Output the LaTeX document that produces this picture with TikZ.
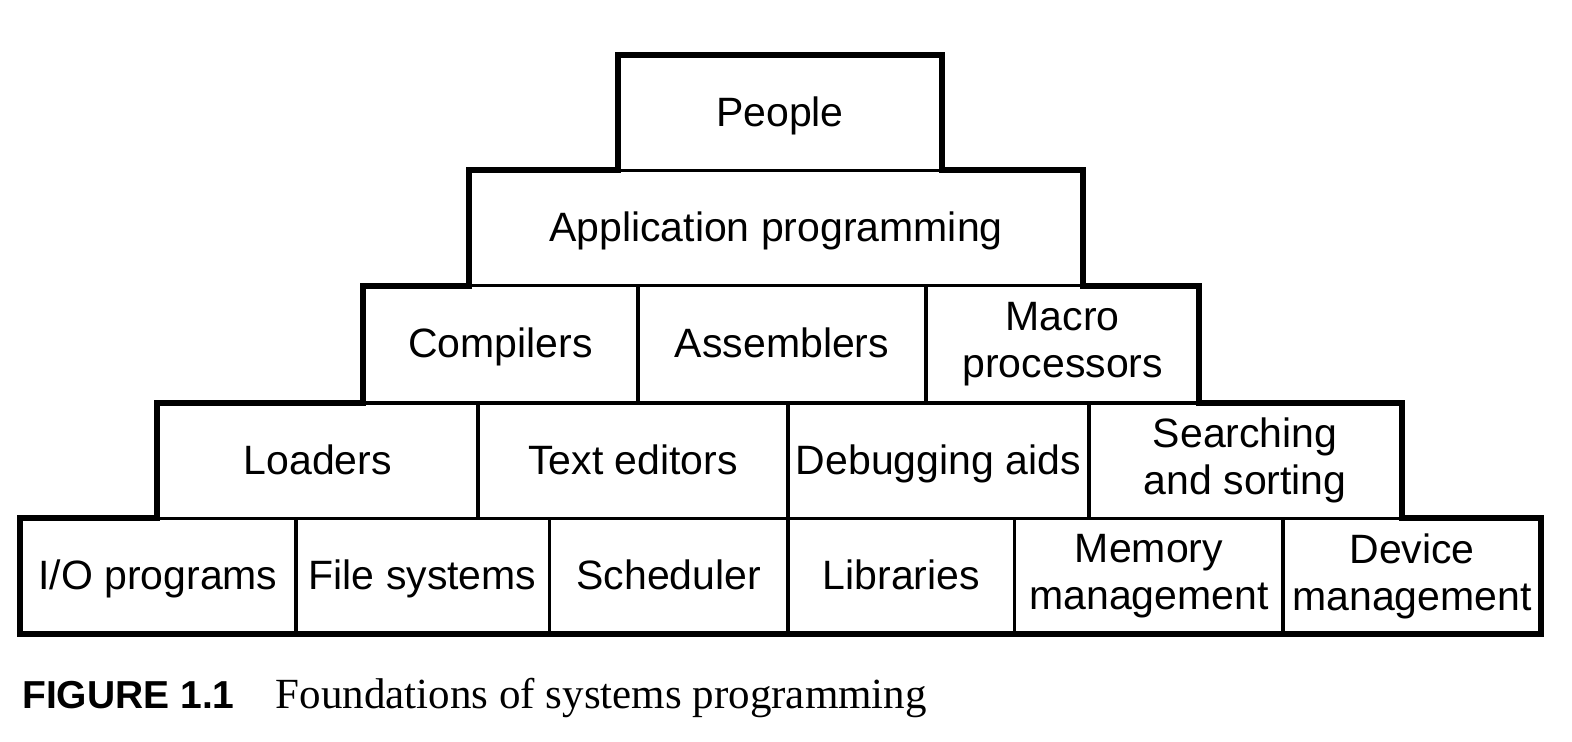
\documentclass[tikz,border=0pt]{standalone}
\usepackage{fontspec}
\setmainfont{Liberation Sans}
\newfontfamily\capserif{Liberation Serif}
\newfontfamily\boxfont{Liberation Sans}
\begin{document}
\begin{tikzpicture}[x=1.0026pt,y=-1.0026pt,
  cell/.style={draw, line width=3pt, minimum height=115pt, inner sep=0pt,
    align=center, font=\boxfont\fontsize{41}{47}\selectfont},
  one/.style={cell, text height=27pt, text depth=0pt},
  two/.style={cell},
  outline/.style={draw, line width=6pt, line join=miter}]
\useasboundingbox (0,0) rectangle (1568,740);
% row 1
\node[one, minimum width=324pt] (people) at (778,112.5) {People};
% row 2
\node[one, minimum width=612pt] (app) at (774,227.5) {Application programming};
% row 3
\node[one, minimum width=274pt, minimum height=117pt] (comp) at (499,343.5) {Compilers};
\node[one, minimum width=288pt, minimum height=117pt] (asm) at (780,343.5) {Assemblers};
\node[two, minimum width=272pt, minimum height=117pt] (macro) at (1060,343.5) {Macro\\processors};
% row 4
\node[one, minimum width=320pt] (load) at (317,459.5) {Loaders};
\node[one, minimum width=309pt] (text) at (631.5,459.5) {Text editors};
\node[one, minimum width=300pt] (debug) at (936,459.5) {Debugging aids};
\node[two, minimum width=312pt] (search) at (1242,459.5) {Searching\\and sorting};
% row 5
\node[one, minimum width=275pt] (io) at (157.5,574.5) {I/O programs};
\node[one, minimum width=253pt] (fs) at (421.5,574.5) {File systems};
\node[one, minimum width=238pt] (sched) at (667,574.5) {Scheduler};
\node[one, minimum width=226pt] (lib) at (899,574.5) {Libraries};
\node[two, minimum width=268pt] (mem) at (1146,574.5) {Memory\\management};
\node[two, minimum width=257pt] (dev) at (1408.5,574.5) {Device\\management};
% thick outline of the pyramid
\draw[outline] (20,632) -- (20,517) -- (157,517) -- (157,402) -- (362,402)
  -- (362,285) -- (468,285) -- (468,170) -- (616,170) -- (616,55)
  -- (940,55) -- (940,170) -- (1080,170) -- (1080,285) -- (1196,285)
  -- (1196,402) -- (1398,402) -- (1398,517) -- (1537,517) -- (1537,632) -- cycle;
% caption
\node[anchor=base west, inner sep=0pt, font=\boxfont\bfseries\fontsize{39}{42}\selectfont] (fig) at (22,707) {FIGURE 1.1};
\node[anchor=base west, inner sep=0pt, font=\capserif\fontsize{43}{46}\selectfont] (cap) at (275,707) {Foundations of systems programming};
\end{tikzpicture}
\end{document}
